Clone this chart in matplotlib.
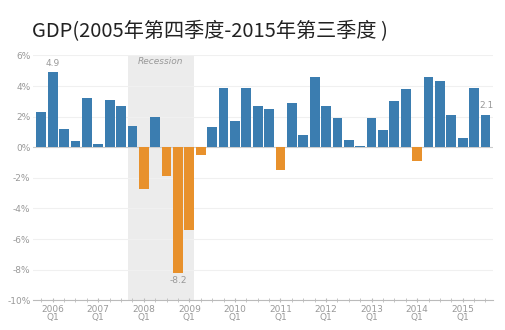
import matplotlib.pyplot as plt
import numpy as np

plt.rcParams['font.family'] = ['Noto Sans CJK SC', 'DejaVu Sans']

# quarterly growth, 2005 Q4 .. 2015 Q3
quarters = ['2005Q4',
            '2006Q1', '2006Q2', '2006Q3', '2006Q4',
            '2007Q1', '2007Q2', '2007Q3', '2007Q4',
            '2008Q1', '2008Q2', '2008Q3', '2008Q4',
            '2009Q1', '2009Q2', '2009Q3', '2009Q4',
            '2010Q1', '2010Q2', '2010Q3', '2010Q4',
            '2011Q1', '2011Q2', '2011Q3', '2011Q4',
            '2012Q1', '2012Q2', '2012Q3', '2012Q4',
            '2013Q1', '2013Q2', '2013Q3', '2013Q4',
            '2014Q1', '2014Q2', '2014Q3', '2014Q4',
            '2015Q1', '2015Q2', '2015Q3']
growth = [2.3,
          4.9, 1.2, 0.4, 3.2,
          0.2, 3.1, 2.7, 1.4,
          -2.7, 2.0, -1.9, -8.2,
          -5.4, -0.5, 1.3, 3.9,
          1.7, 3.9, 2.7, 2.5,
          -1.5, 2.9, 0.8, 4.6,
          2.7, 1.9, 0.5, 0.1,
          1.9, 1.1, 3.0, 3.8,
          -0.9, 4.6, 4.3, 2.1,
          0.6, 3.9, 2.1]
recession = ('2007Q4', '2009Q1')
labelled = ['2006Q1', '2008Q4', '2015Q3']
yticks = [6, 4, 2, 0, -2, -4, -6, -8, -10]

BLUE = '#3b7db0'
ORANGE = '#e8912c'
GREY = '#999999'
BAR_W = 0.86

x = np.arange(len(quarters))
colors = [BLUE if v >= 0 else ORANGE for v in growth]

fig = plt.figure(figsize=(5.05, 3.3), dpi=100)
ax = fig.add_axes([0.066, 0.09, 0.91, 0.742])

# shaded band runs from the left edge of the first bar to the right edge of the last
r0 = quarters.index(recession[0]) - BAR_W / 2
r1 = quarters.index(recession[1]) + BAR_W / 2
ax.axvspan(r0, r1, color='#ececec', zorder=0, lw=0)
ax.text((r0 + r1) / 2, 5.6, 'Recession', ha='center', va='center',
        fontsize=6.5, style='italic', color=GREY, family='DejaVu Sans')

for v in yticks:
    ax.axhline(v, color='#f0f0f0', lw=0.8, zorder=0.5)
ax.axhline(0, color='#cccccc', lw=0.8, zorder=0.6)

ax.bar(x, growth, width=BAR_W, color=colors, zorder=2)

for q in labelled:
    i = quarters.index(q)
    v = growth[i]
    if i == len(quarters) - 1:
        ax.text(i + 0.1, v + 0.35, f'{v:.1f}', ha='center', va='bottom',
                fontsize=6.5, color=GREY, family='DejaVu Sans')
    elif v >= 0:
        ax.text(i, v + 0.25, f'{v:.1f}', ha='center', va='bottom',
                fontsize=6.5, color=GREY, family='DejaVu Sans')
    else:
        ax.text(i, v - 0.2, f'{v:.1f}', ha='center', va='top',
                fontsize=6.5, color=GREY, family='DejaVu Sans')

ax.set_xlim(-0.7, len(quarters) - 0.35)
ax.set_ylim(-10, 6)
ax.set_yticks(yticks)
ax.set_yticklabels([f'{v}%' for v in yticks])

major = [i for i, q in enumerate(quarters) if q.endswith('Q1')]
ax.set_xticks(major)
ax.set_xticklabels([quarters[i][:4] + '\nQ1' for i in major])
ax.set_xticks(x, minor=True)

for s in ['top', 'right', 'left']:
    ax.spines[s].set_visible(False)
ax.spines['bottom'].set_color('#bbbbbb')
ax.spines['bottom'].set_linewidth(0.8)
ax.tick_params(axis='y', length=0, labelsize=6.5, labelcolor=GREY, pad=2)
ax.tick_params(axis='x', which='both', direction='inout', length=3,
               color='#bbbbbb', labelsize=6.5, labelcolor=GREY, pad=2)
for t in ax.get_xticklabels() + ax.get_yticklabels():
    t.set_family('DejaVu Sans')
    t.set_linespacing(0.9)

fig.text(0.063, 0.905, 'GDP(2005年第四季度-2015年第三季度 )', fontsize=14.5,
         color='#222222', va='center', ha='left')

fig.savefig('out.png', dpi=100, facecolor='white')
